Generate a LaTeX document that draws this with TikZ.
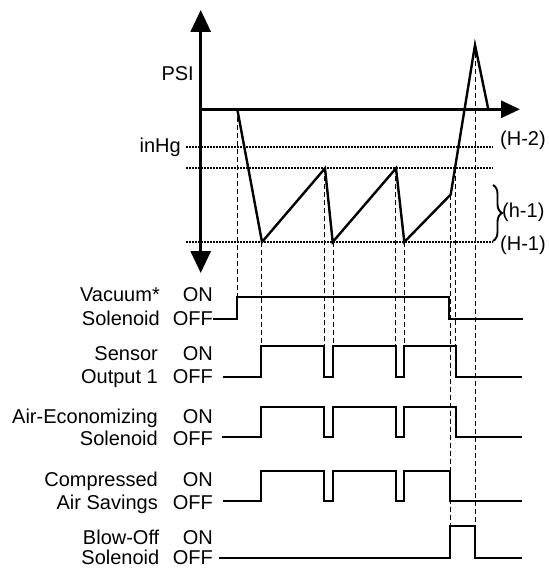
\documentclass[tikz,border=0pt]{standalone}
\usepackage{fontspec}
\setmainfont{Liberation Sans}
\usetikzlibrary{arrows.meta,decorations.pathreplacing}
\begin{document}
\begin{tikzpicture}[x=1pt,y=-1pt,
  lbl/.style={font=\fontsize{20}{22}\selectfont, inner sep=0pt},
  lname/.style={lbl, anchor=base east},
  lwest/.style={lbl, anchor=base west},
  axis/.style={line width=3pt},
  wave/.style={line width=2.4pt, line join=miter},
  sig/.style={line width=2pt, line join=miter},
  guide/.style={line width=0.9pt, dash pattern=on 5pt off 3pt},
  lvl/.style={line width=1.7pt, dash pattern=on 1.5pt off 1.5pt}]
\useasboundingbox (0,0) rectangle (548,569);
% axes
\draw[axis, {Triangle[width=20pt,length=22pt]}-{Triangle[width=20pt,length=22pt]}] (200.7,273) -- (200.7,10);
\draw[axis, -{Triangle[width=17pt,length=19pt]}] (200.7,109.3) -- (520,109.3);
% level lines
\draw[lvl] (186,146.7) -- (493,146.7);
\draw[lvl] (186,168.3) -- (493,168.3);
\draw[lvl] (186,242) -- (493,242);
% axis labels
\node[lname] (psi) at (194,81) {PSI};
\node[lname] (inhg) at (181,152.7) {inHg};
\node[lwest] (h2) at (500,145.5) {(H-2)};
\node[lwest] (hh1) at (502,217) {(h-1)};
\node[lwest] (h1) at (500,250) {(H-1)};
\draw[line width=1.9pt, decorate, decoration={brace, amplitude=9pt}] (493,185) -- (493,241);
% waveform
\draw[wave] (237.3,109.3) -- (262,242) -- (325,168.3) -- (332.7,242) -- (396,168.3) -- (404.3,242) -- (450.7,194.5) -- (475,45) -- (488.3,109.3);
% guides
\draw[guide] (237.3,109.3) -- (237.3,297.3);
\draw[guide] (261.7,242) -- (261.7,346);
\draw[guide] (324.5,168.3) -- (324.5,346);
\draw[guide] (333,242) -- (333,346);
\draw[guide] (395.5,168.3) -- (395.5,346);
\draw[guide] (404.3,242) -- (404.3,346);
\draw[guide] (450.3,194.5) -- (450.3,525.7);
\draw[guide] (455.7,168.3) -- (455.7,346);
\draw[guide] (475,45) -- (475,525.7);
% signal labels
\node[lname] (vac1) at (160,301.5) {Vacuum*};
\node[lname] (vac2) at (160,325) {Solenoid};
\node[lname] (vacon) at (213,301.5) {ON};
\node[lname] (vacoff) at (213,325) {OFF};
\node[lname] (sen1) at (158,360) {Sensor};
\node[lname] (sen2) at (158,383) {Output 1};
\node[lname] (senon) at (213,360) {ON};
\node[lname] (senoff) at (213,383) {OFF};
\node[lname] (ae1) at (158,423.3) {Air-Economizing};
\node[lname] (ae2) at (158,445.7) {Solenoid};
\node[lname] (aeon) at (213,423.3) {ON};
\node[lname] (aeoff) at (213,445.7) {OFF};
\node[lname] (ca1) at (158,486.7) {Compressed};
\node[lname] (ca2) at (158,509.3) {Air Savings};
\node[lname] (caon) at (213,486.7) {ON};
\node[lname] (caoff) at (213,509.3) {OFF};
\node[lname] (bo1) at (159.5,544.5) {Blow-Off};
\node[lname] (bo2) at (159.5,564.5) {Solenoid};
\node[lname] (boon) at (213,544.5) {ON};
\node[lname] (booff) at (213,564.5) {OFF};
% signals
\draw[sig] (213,319) -- (236.7,319) -- (236.7,297.3) -- (449.3,297.3) -- (449.3,319) -- (523.3,319);
\draw[sig] (222.7,376.7) -- (261,376.7) -- (261,346) -- (324.3,346) -- (324.3,376.7) -- (333.3,376.7) -- (333.3,346) -- (395.7,346) -- (395.7,376.7) -- (404,376.7) -- (404,346) -- (456,346) -- (456,376.7) -- (521.7,376.7);
\draw[sig] (221.7,437.3) -- (261,437.3) -- (261,406.7) -- (324.3,406.7) -- (324.3,437.3) -- (333.3,437.3) -- (333.3,406.7) -- (395.7,406.7) -- (395.7,437.3) -- (404,437.3) -- (404,406.7) -- (456,406.7) -- (456,437.3) -- (521.7,437.3);
\draw[sig] (223,501) -- (261,501) -- (261,471) -- (324.3,471) -- (324.3,501) -- (333.3,501) -- (333.3,471) -- (395.7,471) -- (395.7,501) -- (404,501) -- (404,471) -- (449.7,471) -- (449.7,501) -- (521.7,501);
\draw[sig] (219,557.5) -- (450,557.5) -- (450,525.7) -- (475.3,525.7) -- (475.3,557.5) -- (522,557.5);
\end{tikzpicture}
\end{document}
